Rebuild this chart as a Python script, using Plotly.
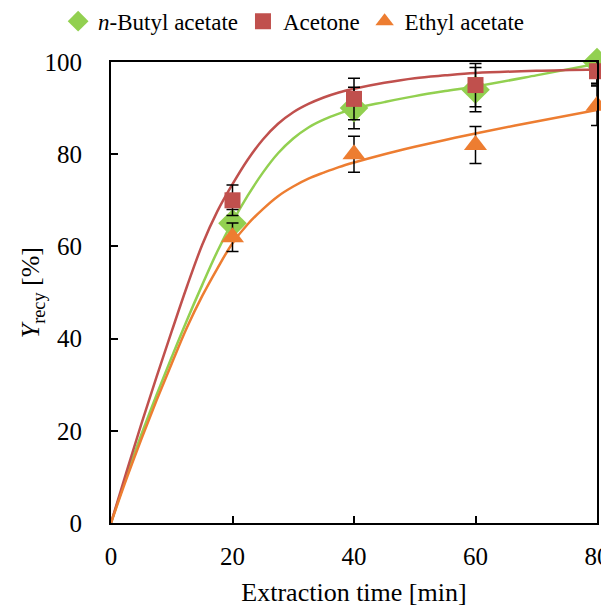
import plotly.graph_objects as go

# Measured data points
time_pts = [20, 40, 60, 80]
butyl = [65, 90, 94, 100]
acetone = [70, 92, 95, 98]
ethyl = [62, 80, 82, 90.5]
butyl_err = [3.0, 4.5, 4.8, 4.6]
acetone_err = [3.3, 4.5, 4.7, 3.0]
ethyl_err = [3.1, 3.9, 4.0, 4.3]

# Fitted model curves
fit_t = [0, 2.5, 5, 7.5, 10, 12.5, 15, 17.5, 20, 22.5, 25, 27.5, 30, 32.5, 35, 37.5, 40, 45, 50, 55, 60, 70, 80]
butyl_fit = [0, 10.0, 19.2, 27.8, 36.0, 44.0, 51.6, 58.9, 65.3, 71.0, 76.0, 80.2, 83.4, 85.8, 87.5, 88.8, 89.9,
             91.3, 92.6, 93.7, 94.7, 97.1, 99.6]
acetone_fit = [0, 10.9, 21.5, 31.7, 41.6, 51.3, 60.3, 67.6, 73.5, 78.8, 83.2, 86.6, 89.1, 90.9, 92.3, 93.4, 94.2,
               95.5, 96.5, 97.1, 97.6, 98.1, 98.4]
ethyl_fit = [0, 9.4, 18.2, 26.6, 34.6, 42.4, 49.2, 55.2, 60.7, 64.8, 68.1, 70.9, 73.0, 74.7, 76.0, 77.2, 78.2,
             80.0, 81.6, 83.1, 84.5, 87.1, 89.6]

GREEN = "#92D050"
RED = "#C0504D"
ORANGE = "#ED7D31"
FONT = "Liberation Serif"

fig = go.Figure()

for ys, col in [(butyl_fit, GREEN), (acetone_fit, RED), (ethyl_fit, ORANGE)]:
    fig.add_trace(go.Scatter(x=fit_t, y=ys, mode="lines", line=dict(color=col, width=2.5, shape="spline", smoothing=1),
                             showlegend=False, hoverinfo="skip", cliponaxis=False))

def err(e):
    return dict(type="data", array=e, visible=True, color="black", thickness=1.5, width=6)

fig.add_trace(go.Scatter(x=time_pts, y=butyl, mode="markers", name="<i>n</i>-Butyl acetate",
                         marker=dict(symbol="diamond", size=22, color=GREEN), error_y=err(butyl_err), cliponaxis=False))
fig.add_trace(go.Scatter(x=time_pts, y=acetone, mode="markers", name="Acetone",
                         marker=dict(symbol="square", size=16, color=RED), error_y=err(acetone_err), cliponaxis=False))
fig.add_trace(go.Scatter(x=time_pts, y=ethyl, mode="markers", name="Ethyl acetate",
                         marker=dict(symbol="triangle-up", size=20, color=ORANGE), error_y=err(ethyl_err), cliponaxis=False))

axis_common = dict(showline=True, linecolor="black", linewidth=2, mirror=True, ticks="inside",
                   ticklen=7, tickwidth=2, tickcolor="black", showgrid=False, zeroline=False,
                   automargin=False, tickfont=dict(family=FONT, size=25, color="black"))

fig.update_layout(
    width=609, height=602,
    margin=dict(l=103, r=20, t=54, b=87, autoexpand=False),
    paper_bgcolor="white", plot_bgcolor="white",
    font=dict(family=FONT, size=23, color="black"),
    showlegend=True,
    legend=dict(orientation="h", x=0.469, xanchor="center", xref="container", y=1.135, yanchor="top",
                yref="paper", font=dict(family=FONT, size=23, color="black"),
                itemsizing="trace", itemwidth=30, tracegroupgap=0, bgcolor="rgba(0,0,0,0)"),
    xaxis=dict(range=[0, 80], tickvals=[0, 20, 40, 60, 80], ticklabelstandoff=10, ticklabeloverflow="allow",
               title=dict(text="Extraction time [min]", font=dict(family=FONT, size=26, color="black"), standoff=14),
               **axis_common),
    yaxis=dict(range=[0, 100], tickvals=[0, 20, 40, 60, 80, 100], ticklabelstandoff=22,
               **axis_common),
    annotations=[dict(text="<i>Y</i><sub>recy</sub> [%]", xref="paper", yref="paper", x=-0.163, y=0.5,
                      xanchor="center", yanchor="middle", textangle=-90, showarrow=False,
                      font=dict(family=FONT, size=26, color="black"))],
)

fig.write_html("out.html")
